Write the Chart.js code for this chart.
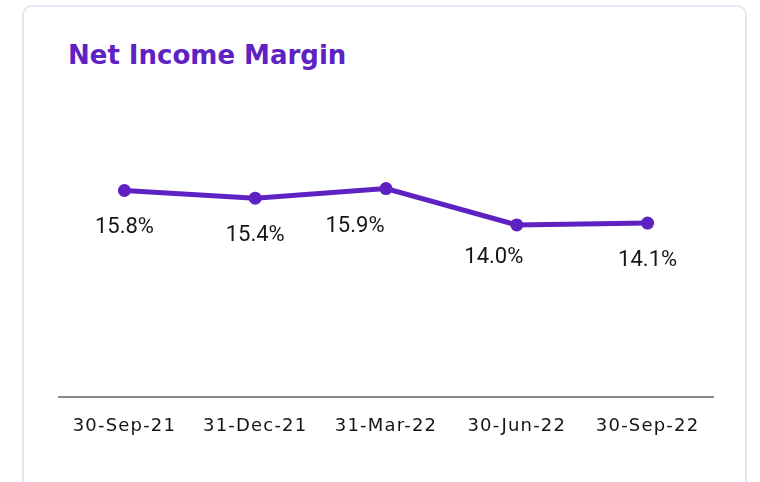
<!DOCTYPE html>
<html>
<head>
<meta charset="utf-8">
<script src="https://cdn.jsdelivr.net/npm/chart.js@4.4.1/dist/chart.umd.min.js"></script>
<style>
  html, body { margin: 0; padding: 0; background: #fff; }
  body { width: 760px; height: 482px; position: relative; overflow: hidden; }
  .card {
    position: absolute; left: 22px; top: 5px; width: 725px; height: 520px;
    border: 2px solid #e2e8f1; border-radius: 10px; box-sizing: border-box;
  }
  .title {
    position: absolute; left: 68px; top: 40px; line-height: 30px;
    font-family: 'DejaVu Sans', sans-serif; font-weight: bold; font-size: 26px;
    color: #5e22c3; white-space: nowrap;
  }
  #wrap { position: absolute; left: 0; top: 0; width: 760px; height: 482px; }
</style>
</head>
<body>
<div class="card"></div>
<div class="title">Net Income Margin</div>
<div id="wrap"><canvas id="chart"></canvas></div>
<script>
const quarters = ['30-Sep-21', '31-Dec-21', '31-Mar-22', '30-Jun-22', '30-Sep-22'];
const marginPct = [15.8, 15.4, 15.9, 14.0, 14.1];

const purple = '#5e22c3';

// widen the x tick text a little (scales are drawn before datasets)
const tickSpacing = {
  id: 'tickSpacing',
  beforeDraw(chart) { chart.ctx.letterSpacing = '1.2px'; },
  beforeDatasetsDraw(chart) { chart.ctx.letterSpacing = '0px'; }
};

// draws the "15.8%" style labels under each point
const valueLabels = {
  id: 'valueLabels',
  afterDatasetsDraw(chart, args, opts) {
    const ctx = chart.ctx;
    const meta = chart.getDatasetMeta(0);
    ctx.save();
    ctx.letterSpacing = '0px';
    ctx.font = '22px Roboto';
    ctx.fillStyle = '#151515';
    ctx.textAlign = 'center';
    ctx.textBaseline = 'alphabetic';
    meta.data.forEach((pt, i) => {
      const nudge = opts.nudge[i] || [0, 0];
      ctx.fillText(marginPct[i].toFixed(1) + '%', pt.x + nudge[0], pt.y + 43 + nudge[1]);
    });
    ctx.restore();
  }
};

new Chart(document.getElementById('chart'), {
  type: 'line',
  data: {
    labels: quarters,
    datasets: [{
      data: marginPct,
      borderColor: purple,
      backgroundColor: purple,
      borderWidth: 5,
      pointRadius: 6.5,
      pointBorderWidth: 0,
      pointBackgroundColor: purple,
      tension: 0,
      fill: false,
      clip: false
    }]
  },
  options: {
    responsive: true,
    maintainAspectRatio: false,
    animation: false,
    layout: { padding: { left: 59, right: 47, top: 110, bottom: 27 } },
    plugins: {
      legend: { display: false },
      tooltip: { enabled: false },
      title: { display: false },
      valueLabels: { nudge: [[0, 0], [0, 0], [-31, 0], [-23, -5], [0, 0]] }
    },
    scales: {
      x: {
        offset: true,
        grid: { display: false, drawTicks: false, tickLength: 0 },
        border: { display: true, color: '#8c8c8c', width: 2 },
        ticks: {
          color: '#151515',
          padding: 18,
          maxRotation: 0,
          autoSkip: false,
          font: { family: 'DejaVu Sans', size: 18 }
        }
      },
      y: {
        display: false,
        min: 5,
        max: 20
      }
    }
  },
  plugins: [tickSpacing, valueLabels]
});
</script>
</body>
</html>
